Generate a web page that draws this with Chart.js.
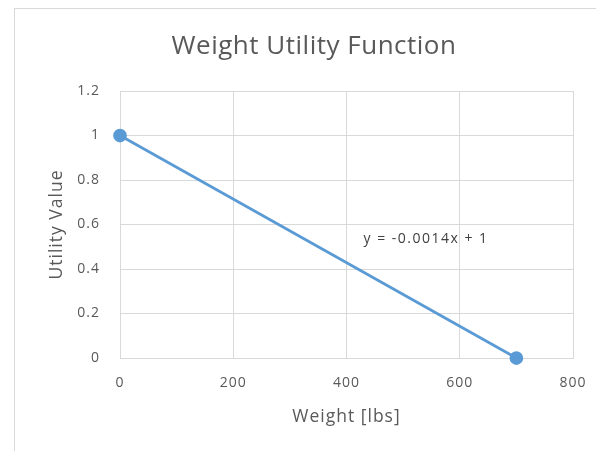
<!DOCTYPE html>
<html>
<head>
<meta charset="utf-8">
<script src="https://cdn.jsdelivr.net/npm/chart.js"></script>
<style>
  html, body { margin: 0; padding: 0; background: #fff; }
  .frame { position: absolute; left: 14px; top: 8px; width: 600px; height: 460px; border: 1px solid #d9d9d9; }
  .wrap { position: absolute; left: 0; top: 0; width: 596px; height: 451px; }
</style>
</head>
<body>
  <div class="frame"></div>
  <div class="wrap"><canvas id="chart" width="596" height="451"></canvas></div>

  <script>
    const weights = [0, 700];
    const utility = [1, 0];
    const xTicks = [0, 200, 400, 600, 800];
    const yTicks = [0, 0.2, 0.4, 0.6, 0.8, 1, 1.2];
    const trendLabel = 'y = -0.0014x + 1';
    const trendLabelAt = [430, 0.535];

    const fontFamily = '"Open Sans", "Noto Sans", sans-serif';
    const textColor = '#595959';
    const gridColor = '#d9d9d9';
    const lineColor = '#5b9bd5';

    // Excel-like wide letter spacing for everything the chart draws itself
    const spacing = {
      id: 'spacing',
      beforeDraw(chart) { chart.ctx.letterSpacing = '1px'; },
      afterDraw(chart) { chart.ctx.letterSpacing = '0px'; }
    };

    const extras = {
      id: 'extras',
      afterDraw(chart) {
        const { ctx, scales } = chart;
        ctx.save();
        ctx.fillStyle = textColor;
        ctx.letterSpacing = '0.5px';
        ctx.font = '26px ' + fontFamily;
        ctx.textAlign = 'center';
        ctx.textBaseline = 'alphabetic';
        ctx.fillText('Weight Utility Function', 314, 54);

        ctx.letterSpacing = '1.5px';
        ctx.font = '14px ' + fontFamily;
        ctx.fillStyle = '#404040';
        ctx.textAlign = 'left';
        ctx.textBaseline = 'middle';
        ctx.fillText(trendLabel, scales.x.getPixelForValue(trendLabelAt[0]), scales.y.getPixelForValue(trendLabelAt[1]));
        ctx.restore();
      }
    };

    new Chart(document.getElementById('chart'), {
      type: 'scatter',
      data: {
        datasets: [{
          data: weights.map((w, i) => ({ x: w, y: utility[i] })),
          showLine: true,
          clip: false,
          borderColor: lineColor,
          backgroundColor: lineColor,
          borderWidth: 2.75,
          pointRadius: 5.5,
          pointHoverRadius: 5.5
        }]
      },
      options: {
        responsive: false,
        animation: false,
        layout: { padding: { left: 0, right: 23, top: 91, bottom: 0 } },
        plugins: { legend: { display: false }, tooltip: { enabled: false } },
        scales: {
          x: {
            type: 'linear',
            min: 0, max: 800,
            afterBuildTicks: s => { s.ticks = xTicks.map(v => ({ value: v })); },
            afterFit: s => { s.height = 93; s.paddingLeft = 0; s.paddingRight = 0; },
            grid: { color: gridColor, drawTicks: false },
            border: { color: gridColor },
            ticks: { padding: 17, color: textColor, font: { family: fontFamily, size: 14 }, maxRotation: 0 },
            title: { display: true, text: 'Weight [lbs]', color: textColor, font: { family: fontFamily, size: 17.5 }, padding: { bottom: 23.5 } }
          },
          y: {
            min: 0, max: 1.2,
            afterBuildTicks: s => { s.ticks = yTicks.map(v => ({ value: v })); },
            afterFit: s => { s.width = 120; },
            grid: { color: gridColor, drawTicks: false },
            border: { color: gridColor },
            ticks: { padding: 20, color: textColor, font: { family: fontFamily, size: 14 }, callback: v => String(Math.round(v * 10) / 10) },
            title: { display: true, text: 'Utility Value', color: textColor, font: { family: fontFamily, size: 17.5 }, padding: { top: 46.5 } }
          }
        }
      },
      plugins: [spacing, extras]
    });
  </script>
</body>
</html>
